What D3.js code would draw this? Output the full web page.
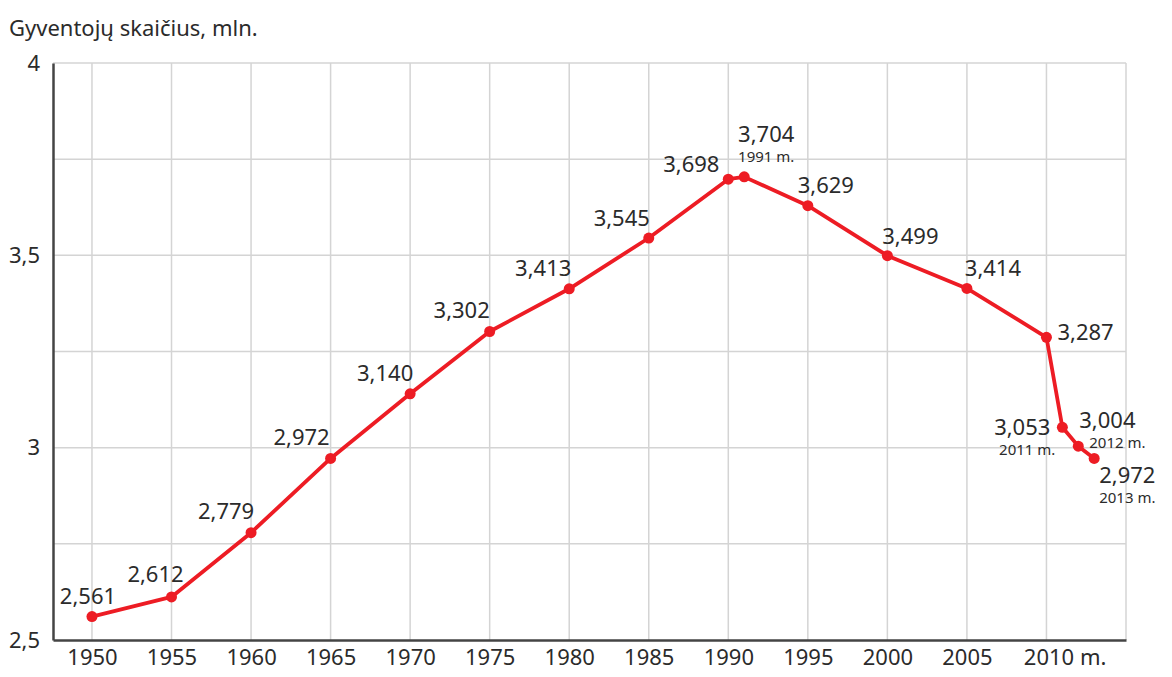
<!DOCTYPE html>
<html>
<head>
<meta charset="utf-8">
<script src="https://cdn.jsdelivr.net/npm/d3@7/dist/d3.min.js"></script>
<style>
  body { margin: 0; background: #fff; }
  text { font-family: "Noto Sans", sans-serif; fill: #2b2b2b; }
</style>
</head>
<body>
<div id="chart"></div>
<script>
// Population of Lithuania, millions
var years = [1950, 1955, 1960, 1965, 1970, 1975, 1980, 1985, 1990, 1991, 1995, 2000, 2005, 2010, 2011, 2012, 2013];
var population = [2.561, 2.612, 2.779, 2.972, 3.140, 3.302, 3.413, 3.545, 3.698, 3.704, 3.629, 3.499, 3.414, 3.287, 3.053, 3.004, 2.972];
var yearNotes = {1991: '1991 m.', 2011: '2011 m.', 2012: '2012 m.', 2013: '2013 m.'};
var xTicks = [1950, 1955, 1960, 1965, 1970, 1975, 1980, 1985, 1990, 1995, 2000, 2005, 2010];
var yTicks = [2.5, 3, 3.5, 4];
var yGrid = [2.75, 3, 3.25, 3.5, 3.75, 4];

// where each value label sits relative to its point
var labelPlace = {
    1950: {dx: -4, dy: -13, anchor: 'middle'},
    1955: {dx: -16, dy: -15, anchor: 'middle'},
    1960: {dx: -25, dy: -14, anchor: 'middle'},
    1965: {dx: -29, dy: -13, anchor: 'middle'},
    1970: {dx: -25, dy: -13, anchor: 'middle'},
    1975: {dx: -28, dy: -13, anchor: 'middle'},
    1980: {dx: -26, dy: -13, anchor: 'middle'},
    1985: {dx: -27, dy: -12, anchor: 'middle'},
    1990: {dx: -37, dy: -7, anchor: 'middle'},
    1991: {dx: 22, dy: -35, anchor: 'middle'},
    1995: {dx: 18, dy: -13, anchor: 'middle'},
    2000: {dx: 23, dy: -12, anchor: 'middle'},
    2005: {dx: 26, dy: -12, anchor: 'middle'},
    2010: {dx: 11, dy: 3, anchor: 'start'},
    2011: {dx: -12, dy: 8, anchor: 'end'},
    2012: {dx: 1, dy: -18, anchor: 'start'},
    2013: {dx: 5, dy: 25, anchor: 'start'}
};

var width = 1172, height = 677;
var margin = {left: 53, right: 46, top: 63, bottom: 37};

var svg = d3.select('#chart').append('svg')
    .attr('width', width)
    .attr('height', height);

svg.append('text')
    .attr('x', 9)
    .attr('y', 36)
    .style('font-size', '22px')
    .text('Gyventojų skaičius, mln.');

var x = d3.scaleLinear()
    .domain([1947.55, 2015])
    .range([margin.left, width - margin.right]);

var y = d3.scaleLinear()
    .domain([2.5, 4])
    .range([height - margin.bottom, margin.top]);

var grid = svg.append('g')
    .attr('stroke', '#d4d4d4')
    .attr('stroke-width', 1.5);

// vertical grid lines, one per tick plus the right border
grid.selectAll('line.v')
    .data(xTicks.concat([2015]))
    .enter()
    .append('line')
    .attr('x1', function(d) { return x(d); })
    .attr('x2', function(d) { return x(d); })
    .attr('y1', y(4))
    .attr('y2', y(2.5));

grid.selectAll('line.h')
    .data(yGrid)
    .enter()
    .append('line')
    .attr('x1', x.range()[0])
    .attr('x2', x.range()[1])
    .attr('y1', function(d) { return y(d); })
    .attr('y2', function(d) { return y(d); });

// y axis
var yAxis = d3.axisLeft(y)
    .tickValues(yTicks)
    .tickSize(0)
    .tickPadding(13)
    .tickFormat(function(d) { return String(d).replace('.', ','); });

var yg = svg.append('g')
    .attr('transform', 'translate(' + margin.left + ',0)')
    .call(yAxis);
yg.select('.domain').attr('stroke', '#444').attr('stroke-width', 2.5);
yg.selectAll('text').style('font-size', '22px').attr('fill', '#2b2b2b');

// x axis
var xAxis = d3.axisBottom(x)
    .tickValues(xTicks)
    .tickSize(0)
    .tickSizeOuter(0)
    .tickPadding(9)
    .tickFormat(function(d) { return d === 2010 ? '2010 m.' : d; });

var xg = svg.append('g')
    .attr('transform', 'translate(0,' + (height - margin.bottom) + ')')
    .call(xAxis);
xg.select('.domain').attr('stroke', '#444').attr('stroke-width', 2.5);
xg.selectAll('text').style('font-size', '22px').attr('fill', '#2b2b2b');
xg.selectAll('.tick text')
    .filter(function(d) { return d === 2010; })
    .attr('text-anchor', 'start')
    .attr('dx', '-1.05em');

var points = years.map(function(yr, i) { return {year: yr, value: population[i]}; });

var line = d3.line()
    .x(function(d) { return x(d.year); })
    .y(function(d) { return y(d.value); });

svg.append('path')
    .datum(points)
    .attr('fill', 'none')
    .attr('stroke', '#ed1c24')
    .attr('stroke-width', 3.8)
    .attr('stroke-linejoin', 'round')
    .attr('d', line);

svg.append('g')
    .attr('fill', '#ed1c24')
    .selectAll('circle')
    .data(points)
    .enter()
    .append('circle')
    .attr('cx', function(d) { return x(d.year); })
    .attr('cy', function(d) { return y(d.value); })
    .attr('r', 5.5);

var labels = svg.append('g');

points.forEach(function(d) {
    var p = labelPlace[d.year];
    var lx = x(d.year) + p.dx;
    var ly = y(d.value) + p.dy;
    labels.append('text')
        .attr('x', lx)
        .attr('y', ly)
        .attr('text-anchor', p.anchor)
        .style('font-size', '22px')
        .text(d.value.toFixed(3).replace('.', ','));
    if (yearNotes[d.year]) {
        var note = labels.append('text')
            .attr('x', lx)
            .attr('y', ly + 20)
            .attr('text-anchor', p.anchor)
            .style('font-size', '15px')
            .text(yearNotes[d.year]);
        if (d.year === 2012) note.attr('x', lx + 10).attr('y', ly + 20);
        if (d.year === 2011) note.attr('x', lx + 5);
    }
});
</script>
</body>
</html>
